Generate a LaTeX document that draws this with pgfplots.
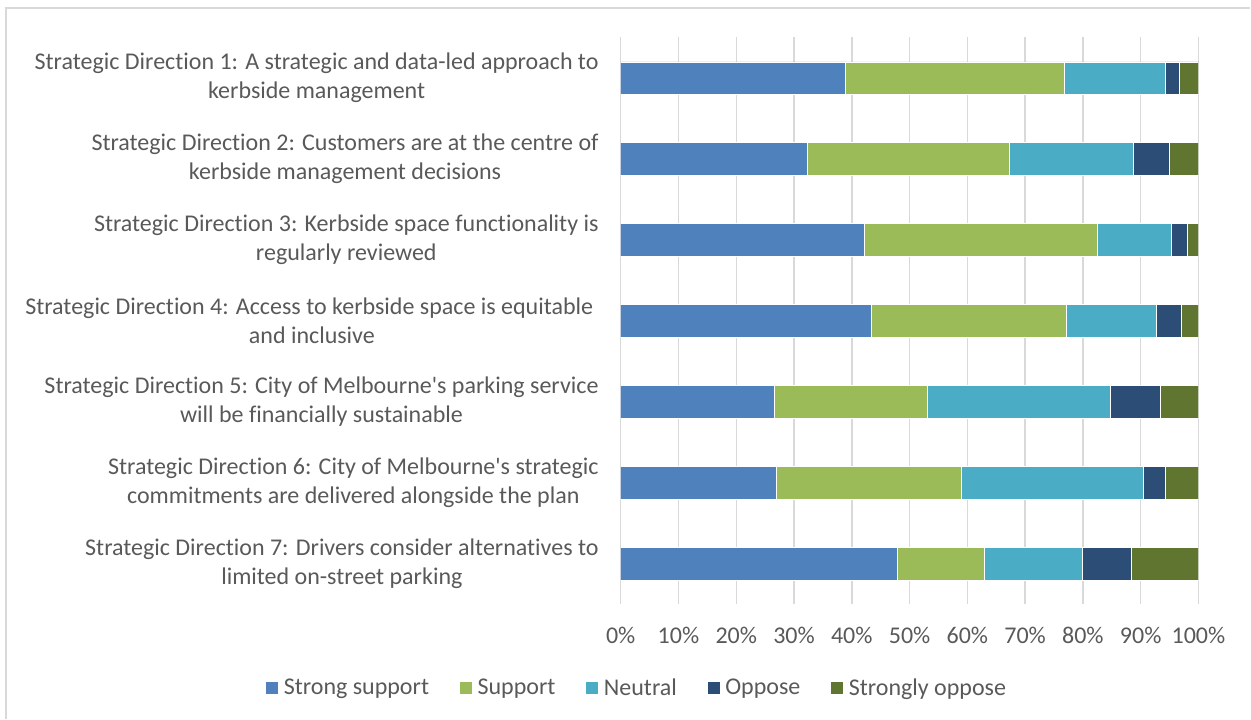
\documentclass[border=0pt]{standalone}
\usepackage{fontspec}
\setmainfont{Carlito}[Ligatures={NoCommon}]
\usepackage{pgfplots}
\pgfplotsset{compat=1.18}
\definecolor{cSS}{HTML}{4F81BD}
\definecolor{cS}{HTML}{9BBB59}
\definecolor{cN}{HTML}{4BACC6}
\definecolor{cO}{HTML}{2C4D75}
\definecolor{cSO}{HTML}{5F7530}
\definecolor{txt}{HTML}{595959}
\definecolor{grd}{HTML}{D9D9D9}
\newcommand{\lf}{\fontsize{24}{29.3}\selectfont}
\begin{document}
\begin{tikzpicture}
\path (0pt,0pt) rectangle (1251pt,719pt);
\draw[grd, line width=1.2pt] (6pt,0pt) -- (6pt,711pt) -- (1251pt,711pt);
\begin{axis}[
  at={(621pt,114.5pt)}, anchor=south west,
  scale only axis, width=578pt, height=567pt,
  xbar stacked, bar width=32.4pt,
  xmin=0, xmax=100, ymin=-0.5, ymax=6.5,
  y dir=reverse,
  ytick={0,...,6},
  yticklabels={
    {Strategic Direction 1: A strategic and data-led approach to\\kerbside management},
    {Strategic Direction 2: Customers are at the centre of\\kerbside management decisions},
    {Strategic Direction 3: Kerbside space functionality is\\regularly reviewed},
    {Strategic Direction 4: Access to kerbside space is equitable\rule{5.4pt}{0pt}\\and inclusive},
    {Strategic Direction 5: City of Melbourne\textquotesingle s parking service\\will be financially sustainable},
    {Strategic Direction 6: City of Melbourne\textquotesingle s strategic\\commitments are delivered alongside the plan},
    {Strategic Direction 7: Drivers consider alternatives to\\limited on-street parking}},
  yticklabel style={align=center, font=\lf, text=txt, inner sep=0pt, xshift=-22pt},
  xtick={0,10,...,100},
  xticklabel={\pgfmathprintnumber{\tick}\%},
  xticklabel style={font=\lf, text=txt, inner sep=0pt, yshift=-23pt},
  /pgf/number format/assume math mode=true,
  major tick length=0pt,
  axis line style={draw=none},
  xmajorgrids, major grid style={grd, line width=1.5pt},
  legend columns=5,
  legend style={at={(0.026,-0.147)}, anchor=center, draw=none, fill=none,
    font=\lf, text=txt, nodes={inner sep=0pt},
    /tikz/every odd column/.append style={column sep=5pt},
    /tikz/every even column/.append style={column sep=30pt}},
  legend image code/.code={\fill[#1] (0pt,-6.5pt) rectangle (13pt,6.5pt);},
  every axis plot/.append style={draw=white, line width=0.5pt},
]
\addplot[fill=cSS] coordinates {(38.8,0) (32.3,1) (42.1,2) (43.4,3) (26.6,4) (27.0,5) (47.8,6)};
\addplot[fill=cS] coordinates {(38.0,0) (35.0,1) (40.4,2) (33.7,3) (26.5,4) (32.0,5) (15.2,6)};
\addplot[fill=cN] coordinates {(17.4,0) (21.5,1) (12.8,2) (15.6,3) (31.6,4) (31.5,5) (16.9,6)};
\addplot[fill=cO] coordinates {(2.4,0) (6.2,1) (2.7,2) (4.3,3) (8.7,4) (3.7,5) (8.5,6)};
\addplot[fill=cSO] coordinates {(3.4,0) (5.0,1) (2.0,2) (3.0,3) (6.6,4) (5.8,5) (11.6,6)};
\legend{Strong support, Support, Neutral, Oppose, Strongly oppose}
\end{axis}
\end{tikzpicture}
\end{document}
